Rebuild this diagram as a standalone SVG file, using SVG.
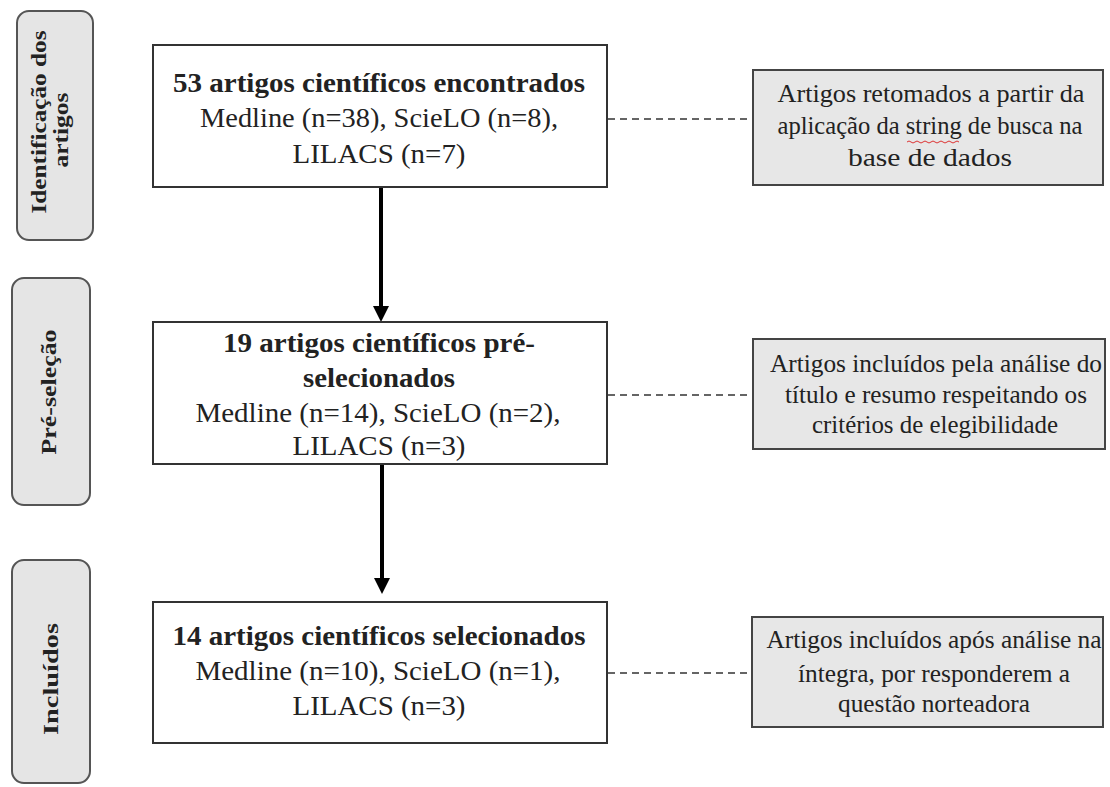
<svg xmlns="http://www.w3.org/2000/svg" width="1110" height="787" viewBox="0 0 1110 787">
<style>
.phase{fill:#e5e5e5;stroke:#555;stroke-width:2}
.main{fill:#fff;stroke:#333;stroke-width:2}
.note{fill:#e7e7e7;stroke:#444;stroke-width:2}
text{font-family:"Liberation Serif","DejaVu Serif",serif;fill:#222;text-anchor:middle}
.pl{font-size:22px;font-weight:bold}
.mb{font-size:27px;font-weight:bold}
.mr{font-size:27px}
.nr{font-size:25px}
.dash{stroke:#333;stroke-width:1.5;stroke-dasharray:7 5;fill:none}
.arr{stroke:#000;stroke-width:4;fill:none}
</style>
<rect width="1110" height="787" fill="#fff"/>

<g id="phase-identificacao" font-family="Liberation Serif, serif">
<rect class="phase" x="17" y="11" width="76" height="229" rx="12"/>
<text class="pl" font-family="Liberation Serif, serif" transform="translate(46,122) rotate(-90)" textLength="183" lengthAdjust="spacingAndGlyphs">Identificação dos</text>
<text class="pl" font-family="Liberation Serif, serif" transform="translate(68,130) rotate(-90)" textLength="75" lengthAdjust="spacingAndGlyphs">artigos</text>
</g>
<g id="phase-preselecao">
<rect class="phase" x="12" y="278" width="78" height="227" rx="12"/>
<text class="pl" font-family="Liberation Serif, serif" transform="translate(56,392) rotate(-90)" textLength="125" lengthAdjust="spacingAndGlyphs">Pré-seleção</text>
</g>
<g id="phase-incluidos">
<rect class="phase" x="12" y="560" width="78" height="223" rx="12"/>
<text class="pl" font-family="Liberation Serif, serif" transform="translate(58,679) rotate(-90)" textLength="112" lengthAdjust="spacingAndGlyphs">Incluídos</text>
</g>

<g id="connectors">
<line class="arr" x1="381" y1="188" x2="381" y2="306"/>
<path d="M373,306 L389,306 L381,322 Z" fill="#000"/>
<line class="arr" x1="382" y1="465" x2="382" y2="578"/>
<path d="M374,578 L390,578 L382,594 Z" fill="#000"/>
<line class="dash" x1="608" y1="119" x2="753" y2="119"/>
<line class="dash" x1="608" y1="395" x2="753" y2="395"/>
<line class="dash" x1="608" y1="673" x2="752" y2="673"/>
</g>

<g id="box-53" font-family="Liberation Serif, serif">
<rect class="main" x="153" y="45" width="454" height="142"/>
<text class="mb" x="379" y="92" textLength="412" lengthAdjust="spacingAndGlyphs">53 artigos científicos encontrados</text>
<text class="mr" x="379" y="127" textLength="358" lengthAdjust="spacingAndGlyphs">Medline (n=38), ScieLO (n=8),</text>
<text class="mr" x="379" y="163" textLength="173" lengthAdjust="spacingAndGlyphs">LILACS (n=7)</text>
</g>
<g id="box-19">
<rect class="main" x="153" y="322" width="454" height="142"/>
<text class="mb" x="379" y="352" textLength="312" lengthAdjust="spacingAndGlyphs">19 artigos científicos pré-</text>
<text class="mb" x="379" y="387" textLength="152" lengthAdjust="spacingAndGlyphs">selecionados</text>
<text class="mr" x="378" y="422" textLength="365" lengthAdjust="spacingAndGlyphs">Medline (n=14), ScieLO (n=2),</text>
<text class="mr" x="379" y="455" textLength="173" lengthAdjust="spacingAndGlyphs">LILACS (n=3)</text>
</g>
<g id="box-14">
<rect class="main" x="153" y="602" width="454" height="141"/>
<text class="mb" x="379" y="645" textLength="413" lengthAdjust="spacingAndGlyphs">14 artigos científicos selecionados</text>
<text class="mr" x="378" y="680" textLength="365" lengthAdjust="spacingAndGlyphs">Medline (n=10), ScieLO (n=1),</text>
<text class="mr" x="379" y="715" textLength="173" lengthAdjust="spacingAndGlyphs">LILACS (n=3)</text>
</g>

<g id="note-1">
<rect class="note" x="753" y="70" width="350" height="115"/>
<text class="nr" x="931" y="102" textLength="307" lengthAdjust="spacingAndGlyphs">Artigos retomados a partir da</text>
<text class="nr" x="930" y="134" textLength="305" lengthAdjust="spacingAndGlyphs">aplicação da string de busca na</text>
<text class="nr" x="930" y="166" textLength="164" lengthAdjust="spacingAndGlyphs">base de dados</text>
<path d="M907,142 q2,-2 4,0 t4,0 t4,0 t4,0 t4,0 t4,0 t4,0 t4,0 t4,0 t4,0 t4,0 t4,0 t4,0" fill="none" stroke="#d33" stroke-width="1"/>
</g>
<g id="note-2">
<rect class="note" x="753" y="339" width="352" height="110"/>
<text class="nr" x="936" y="372" textLength="332" lengthAdjust="spacingAndGlyphs">Artigos incluídos pela análise do</text>
<text class="nr" x="936" y="403" textLength="302" lengthAdjust="spacingAndGlyphs">título e resumo respeitando os</text>
<text class="nr" x="935" y="433" textLength="246" lengthAdjust="spacingAndGlyphs">critérios de elegibilidade</text>
</g>
<g id="note-3">
<rect class="note" x="752" y="617" width="351" height="110"/>
<text class="nr" x="934" y="648" textLength="335" lengthAdjust="spacingAndGlyphs">Artigos incluídos após análise na</text>
<text class="nr" x="934" y="682" textLength="272" lengthAdjust="spacingAndGlyphs">íntegra, por responderem a</text>
<text class="nr" x="934" y="712" textLength="192" lengthAdjust="spacingAndGlyphs">questão norteadora</text>
</g>
</svg>
